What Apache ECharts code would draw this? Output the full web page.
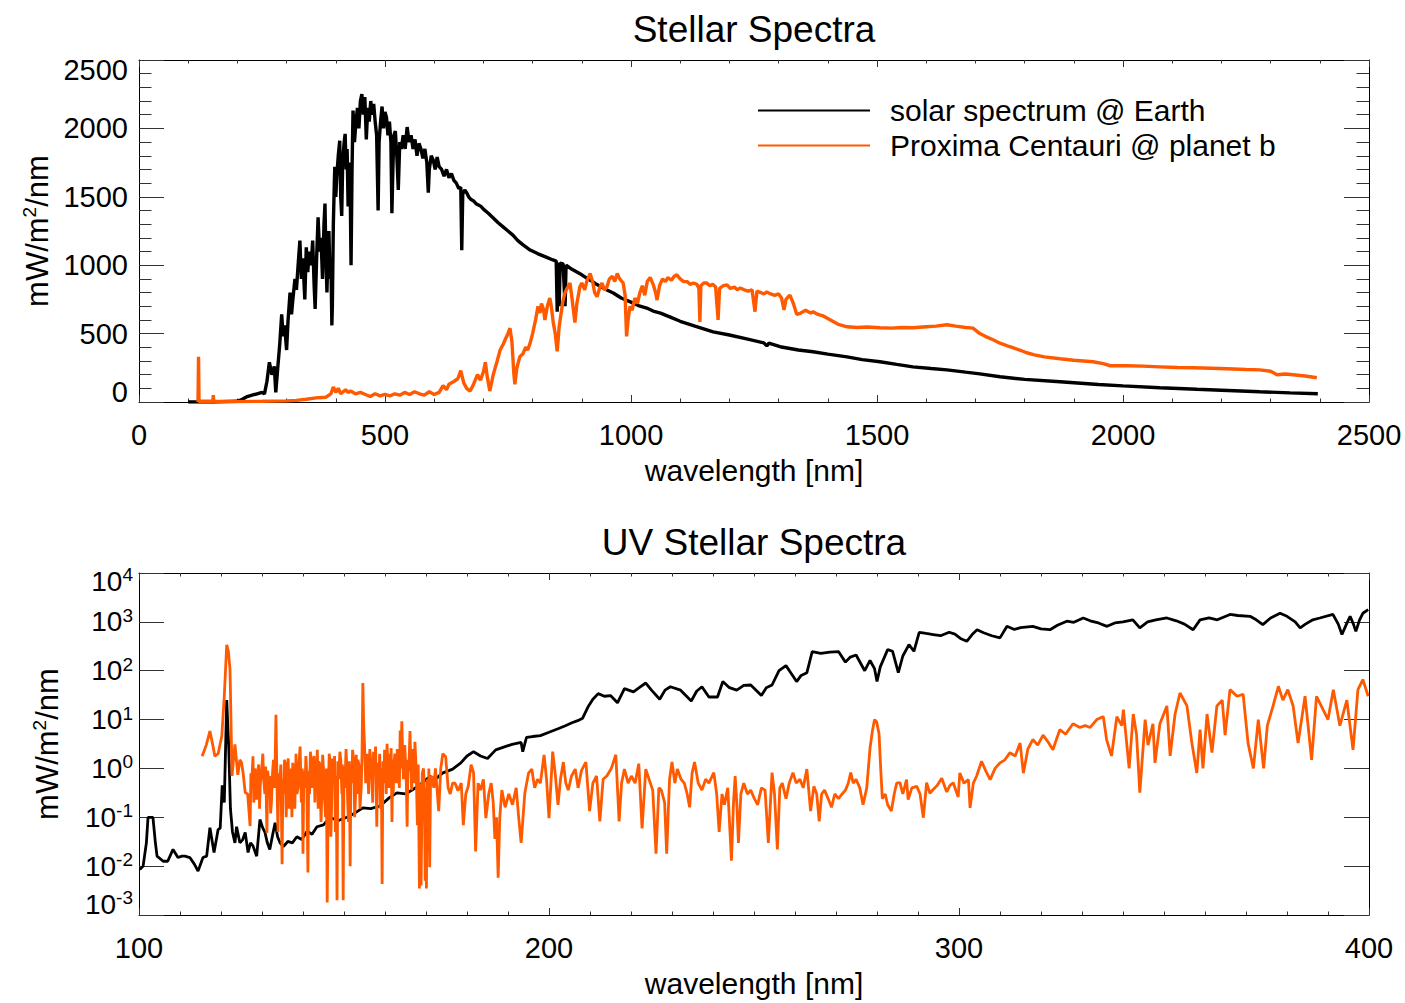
<!DOCTYPE html>
<html>
<head>
<meta charset="utf-8">
<script src="https://cdn.jsdelivr.net/npm/echarts@6/dist/echarts.min.js"></script>
<style>
html,body{margin:0;padding:0;background:#fff;}
#chart{width:1405px;height:1003px;}
</style>
</head>
<body>
<div id="chart"></div>
<script>
// ---------- DATA ----------
const seriesNames = ['solar spectrum @ Earth', 'Proxima Centauri @ planet b'];
const titles = ['Stellar Spectra', 'UV Stellar Spectra'];
const xName = 'wavelength [nm]';

// Top panel: full spectrum, wavelength [nm] vs mW/m2/nm
const topSun = [[100,0],[150,0],[200,5],[210,20],[220,40],[230,50],[240,60],[250,70],[255,60],[260,150],[265,290],[270,200],[275,260],[278,70],[282,250],[286,420],[290,640],[293,480],[296,560],[300,380],[303,600],[307,800],[310,640],[313,760],[317,900],[320,820],[323,980],[327,1180],[330,900],[333,1050],[337,750],[340,1130],[343,950],[346,1100],[350,1000],[353,1180],[356,850],[358,680],[361,1050],[364,1350],[367,1100],[370,1200],[373,900],[376,1300],[378,1450],[380,1050],[382,800],[384,1100],[386,1250],[388,900],[390,1050],[392,560],[393,700],[395,1300],[397,1600],[398,1720],[400,1500],[402,1650],[405,1800],[408,1910],[410,1500],[412,1360],[414,1750],[417,1900],[419,1960],[421,1700],[423,1850],[425,1430],[427,1750],[429,1650],[431,1000],[433,1700],[435,2130],[438,1900],[441,2050],[444,2150],[447,2000],[450,2200],[453,2250],[456,2100],[459,2230],[462,1920],[465,2150],[468,2050],[471,2200],[474,2100],[477,2180],[480,2050],[483,1950],[486,1400],[488,1900],[491,2050],[494,2160],[497,2000],[500,2120],[503,2080],[506,1950],[509,2050],[512,1900],[514,1380],[516,1700],[518,1950],[521,1980],[524,1800],[527,1550],[530,1900],[533,1850],[537,1950],[541,1850],[545,2010],[549,1900],[553,1950],[557,1850],[561,1920],[565,1800],[569,1890],[573,1850],[577,1780],[581,1850],[585,1750],[588,1530],[590,1700],[594,1800],[598,1770],[602,1700],[606,1790],[610,1720],[615,1700],[620,1650],[625,1700],[630,1640],[635,1670],[640,1620],[645,1600],[650,1560],[654,1570],[656,1110],[658,1520],[662,1550],[666,1530],[670,1500],[675,1480],[680,1470],[685,1450],[690,1440],[695,1430],[700,1410],[710,1380],[720,1345],[730,1310],[740,1280],[750,1250],[760,1220],[770,1180],[780,1150],[795,1111],[810,1085],[820,1070],[830,1055],[840,1040],[848,1030],[850,660],[852,1020],[854,700],[856,1015],[862,1010],[866,700],[868,1000],[880,970],[890,950],[900,930],[910,905],[920,885],[930,860],[940,840],[950,820],[964,797],[980,760],[1000,730],[1015,705],[1032,687],[1045,665],[1060,650],[1080,620],[1100,590],[1130,555],[1167,513],[1200,490],[1235,462],[1270,432],[1276,410],[1280,430],[1303,404],[1340,380],[1370,367],[1400,350],[1439,330],[1470,310],[1506,294],[1540,275],[1573,257],[1610,245],[1642,235],[1680,218],[1709,206],[1750,185],[1800,165],[1872,148],[1950,128],[2000,118],[2075,104],[2150,93],[2200,86],[2278,75],[2340,67],[2396,60]];

const topProxima = [[120,0],[121,330],[122,0],[125,5],[150,5],[151,50],[152,5],[200,3],[250,5],[300,8],[320,12],[340,20],[360,30],[380,35],[390,60],[395,110],[400,70],[405,100],[410,60],[420,90],[425,70],[430,80],[440,60],[450,70],[460,55],[470,40],[480,60],[490,45],[500,55],[510,45],[520,60],[530,50],[540,70],[550,55],[560,75],[570,60],[580,50],[590,75],[600,55],[610,70],[618,120],[625,90],[630,130],[640,150],[648,170],[654,230],[660,140],[666,100],[673,80],[680,130],[688,200],[694,160],[700,220],[704,290],[708,180],[713,80],[720,200],[728,300],[734,380],[740,420],[746,470],[750,500],[754,540],[758,440],[762,200],[764,130],[768,250],[774,330],[780,350],[786,400],[790,380],[795,430],[800,500],[806,600],[811,700],[815,650],[818,720],[822,680],[825,600],[830,700],[835,760],[838,700],[842,580],[846,500],[850,370],[854,550],[858,650],[862,745],[866,800],[870,830],[876,870],[880,760],[886,580],[890,720],[896,840],[900,870],[906,820],[910,880],[917,940],[922,880],[926,800],[931,770],[936,830],[941,870],[946,820],[951,840],[956,900],[962,920],[967,880],[972,940],[977,900],[984,870],[988,780],[991,480],[994,600],[998,700],[1002,670],[1008,760],[1013,720],[1018,800],[1023,850],[1028,780],[1033,880],[1039,910],[1045,860],[1050,800],[1053,745],[1058,850],[1064,900],[1070,880],[1075,910],[1082,890],[1088,920],[1093,930],[1100,900],[1107,880],[1114,880],[1120,860],[1127,870],[1134,860],[1138,830],[1140,585],[1142,850],[1148,870],[1154,870],[1160,850],[1166,860],[1172,840],[1177,600],[1180,830],[1188,850],[1195,856],[1202,830],[1210,840],[1216,820],[1222,834],[1230,820],[1238,810],[1246,820],[1252,660],[1256,810],[1264,800],[1270,790],[1276,804],[1284,790],[1292,780],[1300,790],[1306,760],[1311,673],[1315,750],[1320,770],[1323,782],[1330,720],[1337,640],[1345,650],[1355,670],[1365,650],[1370,660],[1380,640],[1390,630],[1398,614],[1410,590],[1420,570],[1439,550],[1460,545],[1480,548],[1506,543],[1530,540],[1550,545],[1573,543],[1600,550],[1620,555],[1642,565],[1660,555],[1680,545],[1695,540],[1709,500],[1720,480],[1736,455],[1750,430],[1770,404],[1790,380],[1804,360],[1820,345],[1840,330],[1872,316],[1900,305],[1939,294],[1960,280],[1974,265],[2008,265],[2040,262],[2075,257],[2110,252],[2142,250],[2180,247],[2211,243],[2250,238],[2278,235],[2300,225],[2313,199],[2330,205],[2346,199],[2370,190],[2394,177]];

// Bottom panel: UV, log scale
const uvSun = [[100.2,0.0085],[101,0.01],[101.8,0.03],[102.2,0.1],[103.4,0.1],[104,0.03],[104.4,0.016],[105.9,0.0126],[107,0.0126],[108.3,0.022],[109.5,0.015],[110.5,0.016],[111.2,0.016],[112.4,0.015],[113.5,0.011],[114.4,0.0079],[115.6,0.015],[116.5,0.016],[117.3,0.061],[118.3,0.019],[119.3,0.056],[119.8,0.06],[120.3,0.45],[120.8,0.2],[121.4,25],[121.9,2.5],[122.3,0.15],[122.8,0.05],[123.4,0.03],[123.8,0.064],[124.6,0.03],[125.3,0.035],[125.9,0.049],[126.6,0.019],[127.2,0.03],[127.8,0.026],[128.7,0.016],[129.5,0.09],[130.2,0.06],[130.7,0.05],[131.3,0.03],[131.9,0.022],[132.5,0.04],[133.2,0.077],[133.8,0.04],[134.4,0.03],[135.2,0.025],[136.3,0.032],[137.4,0.03],[138.5,0.04],[139.7,0.035],[141,0.052],[142.2,0.045],[143.4,0.064],[145,0.07],[146.6,0.1],[148.5,0.085],[150.7,0.1],[152.5,0.12],[154.6,0.156],[156.5,0.15],[158.8,0.17],[161,0.25],[162.9,0.316],[165,0.3],[166.8,0.37],[169,0.5],[171,0.69],[172.2,0.59],[174,0.8],[176.5,0.97],[178.5,1.3],[180,1.8],[181.6,2.2],[183.3,1.8],[185,1.6],[187,2.4],[189.3,2.8],[191,3.1],[193.2,3.4],[193.6,2.2],[194.5,4.3],[196,4.5],[197.9,4.7],[200,5.5],[202.2,6.5],[204,7.5],[205.6,8.6],[207,9.5],[208.2,10.7],[209.5,18],[210.7,26],[212,34],[213.5,30],[215,31],[216.7,22],[218.4,43],[220.6,37],[222,45],[223.6,56],[225,40],[227,26],[228.3,40],[229.6,47],[232.1,40],[234.7,24],[236,38],[237.3,47],[239,29],[241.1,29],[242.4,60],[244,45],[245.8,40],[247.5,50],[249.2,51],[251.8,31],[253,45],[254.4,51],[256.1,100],[257.8,127],[259,90],[260.4,60],[261.5,80],[262.9,91],[264.2,247],[266.3,227],[268.5,240],[270.6,247],[272.3,150],[273.5,190],[274.9,210],[277,100],[278.3,162],[279.4,110],[280,60],[280.8,120],[282.6,270],[283.8,250],[285.2,91],[286.3,200],[287.8,343],[289,250],[290.3,612],[292,580],[293.7,550],[295.5,520],[297.6,612],[299,560],[300.5,450],[301.9,400],[303.2,550],[304.4,690],[306,600],[308,520],[310,470],[311.7,810],[313.5,700],[315,760],[318,810],[320,720],[322.2,690],[324,850],[326.3,1030],[328,980],[330.3,1200],[332,1050],[334,950],[336.1,810],[338,950],[340,1000],[342.4,1100],[344.1,750],[346,1000],[348,1100],[350.7,1200],[353,1050],[355,900],[357.1,690],[358.8,1100],[361,1200],[363,1100],[366.1,1420],[368,1350],[371,1300],[372.5,1100],[374.1,880],[376,1200],[378.3,1500],[380,1300],[382,1000],[383.2,750],[384.5,900],[386.3,1100],[388,1200],[391.2,1420],[392.5,900],[393.4,550],[394.5,900],[395.4,1300],[396.2,900],[396.8,640],[397.7,1100],[398.5,1500],[399.8,1780]];

const uvProxima = [[115.4,1.78],[116.4,3],[117.3,5.8],[118,3],[118.5,1.78],[119.3,2.0],[120.2,4.6],[120.8,30],[121.4,340],[121.8,250],[122.2,105],[122.5,5],[122.7,0.7],[123.4,3.1],[124.1,0.74],[124.6,1.5],[125,1.32],[125.4,0.8],[125.9,0.32],[126.5,0.3],[127.1,0.066],[127.3,0.8],[127.5,0.5],[127.8,1.78],[128,0.2],[128.3,1.0],[128.5,0.4],[128.7,0.23],[129,0.9],[129.2,1.2],[129.4,0.15],[129.6,0.5],[129.9,0.9],[130.2,2.0],[130.4,0.6],[130.7,0.3],[130.9,1.1],[131.2,0.048],[131.4,0.9],[131.6,0.5],[131.9,0.7],[132.1,0.12],[132.3,0.2],[132.6,0.9],[132.8,1.5],[133.1,0.4],[133.4,12.6],[133.7,0.3],[133.9,0.05],[134.1,0.8],[134.3,0.5],[134.6,1.2],[134.9,0.011],[135.1,0.6],[135.3,0.3],[135.5,1.5],[135.7,1.2],[135.9,0.1],[136.1,0.7],[136.4,1.6],[136.6,0.15],[136.8,0.5],[137,1.0],[137.3,0.1],[137.5,1.3],[137.8,0.6],[138,0.15],[138.3,2.0],[138.5,0.3],[138.8,0.4],[139,1.2],[139.3,2.8],[139.6,0.2],[139.8,1.0],[140,0.018],[140.2,0.9],[140.5,0.4],[140.7,1.8],[140.9,0.8],[141.2,0.0074],[141.4,0.9],[141.6,0.3],[141.8,2.2],[142,1.5],[142.2,0.4],[142.4,1.0],[142.7,1.8],[142.9,0.2],[143.1,1.3],[143.3,0.8],[143.5,2.4],[143.7,0.15],[143.9,1.4],[144.1,1.2],[144.4,0.08],[144.6,0.3],[144.8,1.9],[145,0.9],[145.2,0.3],[145.5,0.1],[145.7,1.0],[145.9,0.0018],[146.2,0.5],[146.4,2.0],[146.6,1.3],[146.8,0.04],[147,0.2],[147.2,1.6],[147.5,0.8],[147.7,1.8],[147.9,0.05],[148.1,0.7],[148.3,0.002],[148.5,1.4],[148.7,0.6],[149,2.2],[149.2,1.5],[149.5,0.3],[149.6,1.2],[149.8,0.002],[150,1.1],[150.2,0.4],[150.5,2.5],[150.7,1.0],[150.9,0.2],[151.1,0.08],[151.3,1.4],[151.5,0.01],[151.7,1.0],[151.9,0.5],[152.1,2.4],[152.4,1.4],[152.6,0.1],[152.8,0.25],[153,1.9],[153.2,0.3],[153.4,1.5],[153.7,1.1],[153.9,0.15],[154.2,0.4],[154.4,2.0],[154.6,56],[154.8,8],[155,3],[155.3,0.5],[155.6,2.0],[155.8,0.9],[156,0.3],[156.3,2.5],[156.5,1.5],[156.8,0.6],[157,0.2],[157.2,2.2],[157.5,0.9],[157.7,2.8],[158,0.064],[158.2,1.3],[158.5,0.6],[158.7,2.0],[158.9,0.15],[159.1,1.0],[159.3,0.0043],[159.5,1.4],[159.7,0.5],[159.9,2.4],[160.1,1.5],[160.3,0.3],[160.5,3.2],[160.7,1.2],[160.9,0.4],[161.1,2.0],[161.3,1.0],[161.5,2.6],[161.7,0.08],[161.9,1.5],[162,0.3],[162.2,1.2],[162.4,2.0],[162.6,0.9],[162.8,0.5],[163,2.5],[163.3,1.6],[163.5,0.4],[163.7,6.0],[163.9,1.0],[164.1,9.2],[164.3,2.0],[164.5,0.6],[164.8,3.0],[165,1.4],[165.2,0.5],[165.4,0.064],[165.6,1.5],[165.8,0.9],[166.1,5.8],[166.3,1.0],[166.5,0.36],[166.7,2.5],[166.9,2.0],[167.1,0.5],[167.3,3.5],[167.6,1.0],[167.9,0.069],[168.1,1.2],[168.4,0.0035],[168.6,0.5],[168.8,0.004],[169.1,0.8],[169.4,1.0],[169.6,0.3],[169.8,0.005],[170,0.4],[170.1,0.0035],[170.3,0.6],[170.5,0.02],[170.7,1.0],[170.9,0.0095],[171.1,0.5],[171.4,0.7],[171.9,0.4],[172.3,1.0],[173.1,0.134],[173.6,1.0],[174.1,2.0],[174.8,1.74],[175.4,0.4],[175.9,0.3],[176.5,0.5],[177.1,0.5],[177.8,0.35],[178.6,0.5],[179.1,0.069],[179.7,0.3],[180.3,0.43],[181,1.2],[181.6,0.82],[182.1,0.02],[182.7,0.5],[183.3,0.36],[184,0.6],[184.6,0.096],[185.3,0.3],[185.9,0.5],[186.4,0.2],[186.8,0.036],[187.2,0.1],[187.6,0.0058],[188,0.1],[188.5,0.36],[189.3,0.16],[190.2,0.3],[191.1,0.18],[192,0.4],[192.6,0.1],[193.2,0.03],[194.1,0.31],[195,0.8],[195.8,0.97],[196.5,0.4],[197.2,0.6],[197.9,0.5],[198.8,1.9],[199.4,0.6],[200,0.096],[200.9,2.2],[201.5,0.8],[202.2,0.18],[202.8,0.6],[203.5,1.35],[204.1,0.5],[204.7,0.36],[205.5,0.7],[206.4,0.97],[207.1,0.4],[207.9,0.9],[209,1.35],[209.9,0.134],[210.7,0.5],[211.6,0.7],[212.4,0.082],[213.2,0.6],[214.1,0.7],[215.2,1.0],[216.3,1.9],[217.1,0.082],[217.7,0.5],[218.4,0.97],[219.3,0.5],[220.1,0.7],[221,0.5],[221.9,1.25],[222.7,0.059],[223.6,0.97],[224.4,0.6],[225.3,0.36],[226.1,0.018],[226.8,0.4],[227.4,0.36],[228.2,0.2],[228.7,0.018],[229.4,0.6],[230,1.35],[230.7,0.5],[231.3,0.97],[232.2,0.6],[233,0.5],[233.7,0.3],[234.3,0.16],[234.9,0.8],[235.5,1.35],[236.4,0.5],[237.3,0.36],[238.2,0.6],[239,0.5],[240.2,0.82],[240.9,0.3],[241.5,0.05],[242.2,0.3],[242.8,0.18],[243.6,0.4],[244.5,0.013],[245,0.2],[245.4,0.7],[245.8,0.2],[246.2,0.03],[246.8,0.3],[247.5,0.5],[248.4,0.3],[249.2,0.36],[250,0.25],[250.9,0.18],[251.8,0.4],[252.7,0.36],[253.5,0.03],[254.4,0.82],[255,0.3],[255.7,0.022],[256.3,0.4],[256.9,0.5],[257.8,0.24],[258.6,0.5],[259.5,0.82],[260.3,0.5],[261.2,0.6],[262,0.4],[262.9,0.97],[263.8,0.134],[264.6,0.43],[265.3,0.3],[265.9,0.082],[266.5,0.3],[267.2,0.36],[268,0.25],[268.9,0.16],[269.7,0.3],[270.6,0.24],[271.5,0.3],[272.3,0.36],[273,0.5],[273.6,0.82],[274.2,0.5],[274.9,0.6],[275.8,0.4],[276.6,0.18],[277.5,0.4],[278.3,2.6],[278.9,6],[279.4,10],[279.9,9],[280.5,5.1],[280.9,1.0],[281.3,0.24],[282,0.3],[282.6,0.18],[283.5,0.134],[284.2,0.3],[284.8,0.5],[285.6,0.51],[286.3,0.3],[287.2,0.59],[287.6,0.23],[288.5,0.4],[289.7,0.43],[290.5,0.3],[291.3,0.098],[292.1,0.51],[292.9,0.31],[293.7,0.37],[294.7,0.45],[295.8,0.63],[297,0.33],[297.8,0.45],[298.6,0.51],[299.8,0.26],[300.2,0.81],[301.2,0.5],[302.3,0.59],[302.7,0.156],[303.5,0.5],[304.3,0.7],[305.5,1.4],[306.5,0.9],[307.6,0.59],[308.8,1.0],[310,1.3],[311.2,1.5],[312.4,2.1],[313.7,1.8],[314.9,3.3],[315.7,0.8],[316.8,2.5],[318,3.9],[319.2,3.0],[320.5,4.8],[321.7,3.5],[322.9,2.4],[323.8,4.0],[324.6,6.2],[326,5.0],[327.8,8.2],[329.5,6.9],[330.8,7.5],[332,6.9],[333.6,10],[335.2,11.5],[336,3.9],[337.2,1.8],[338.5,11.5],[339.7,7.5],[340.1,16],[341.5,1.0],[342.5,13],[343.3,5],[344.1,0.32],[345.4,10],[346.1,3.0],[347.3,8.2],[347.8,1.3],[349,8.2],[350.7,19],[351.5,1.8],[352.7,13],[353.9,35],[355.6,19],[356.8,3.3],[358,0.81],[358.8,6.2],[359.5,1.0],[360.5,13],[361.7,2.1],[362.9,19],[364.2,25],[364.9,4.8],[366.1,41],[367.8,30],[369.3,33],[370.5,3.3],[371.8,1.0],[373,10],[374.3,1.0],[375.2,7.5],[376.6,19],[377.9,48],[379,25],[380.2,41],[381.5,19],[382.7,3.3],[384.4,30],[386,1.5],[387.2,30],[388.8,16],[390,10],[391.3,41],[392.9,7.5],[394.6,25],[396.1,2.4],[397.3,41],[398.5,66],[399.8,30]];

// Axis ranges / ticks
const topX = {min: 0, max: 2500, interval: 500};
const topY = {min: 0, max: 2500, interval: 500};
const uvX = {min: 100, max: 400, interval: 100};
const uvY = {min: 0.001, max: 10000};

// ---------- CHART ----------
const FONT = "'Liberation Sans', Arial, Helvetica, sans-serif";
const ORANGE = '#ff5a00';
const TICKC = '#333';
const chart = echarts.init(document.getElementById('chart'), null, {renderer: 'svg'});

const G0 = {left: 139, top: 60, width: 1230, height: 342, outerBoundsMode: 'none', containLabel: false};
const G1 = {left: 139, top: 573, width: 1230, height: 342, outerBoundsMode: 'none', containLabel: false};
const plain = function (v) { return String(v); };

// y labels at the ends of the axis are nudged inward (as in the reference)
const topYFmt = function (v) {
  if (v === topY.max) return '{g| }\n{n|' + v + '}';
  if (v === topY.min) return '{n|' + v + '}\n{g| }';
  return '{n|' + v + '}';
};
const logFmt = function (v) {
  const e = Math.round(Math.log10(v));
  const s = '{b|10}{s|' + e + '}';
  if (e === 4) return '{g1| }\n' + s;
  if (e === -3) return s + '\n{g2| }';
  return s;
};

function xAx(grid, r, pos, labels, minorSplit) {
  const a = {
    type: 'value', gridIndex: grid, position: pos, min: r.min, max: r.max, interval: r.interval,
    axisLine: {show: true, onZero: false, lineStyle: {color: '#000', width: 1}},
    axisTick: {show: true, inside: true, length: 7, lineStyle: {color: TICKC, width: 1}},
    minorTick: {show: true, splitNumber: minorSplit, length: 3.5, lineStyle: {color: TICKC, width: 1}},
    splitLine: {show: false}, minorSplitLine: {show: false},
    axisLabel: {show: labels, margin: 18, color: '#000', fontSize: 29, fontFamily: FONT, formatter: plain}
  };
  if (labels) {
    a.name = xName; a.nameLocation = 'middle'; a.nameGap = 53;
    a.nameTextStyle = {color: '#000', fontSize: 30, fontFamily: FONT};
  }
  return a;
}
const yName = '{a|mW/m}{s|2}{a|/nm}';
const yNameStyle = {color: '#000', fontFamily: FONT, rich: {
  a: {fontSize: 31, fontFamily: FONT, color: '#000', lineHeight: 34},
  s: {fontSize: 19, fontFamily: FONT, color: '#000', verticalAlign: 'top', lineHeight: 22}
}};

const option = {
  animation: false,
  backgroundColor: '#fff',
  grid: [G0, G1],
  legend: {
    orient: 'vertical', left: 758, top: 93, itemGap: 0, padding: 0,
    icon: 'rect', itemWidth: 112, itemHeight: 2,
    data: seriesNames,
    textStyle: {fontSize: 30, fontFamily: FONT, color: '#000', lineHeight: 35, padding: [0, 0, 0, 15]}
  },
  graphic: [
    {type: 'text', x: 754, y: 29, style: {text: titles[0], fontSize: 37, fontFamily: FONT, fill: '#000', align: 'center', verticalAlign: 'middle'}},
    {type: 'text', x: 754, y: 542, style: {text: titles[1], fontSize: 37, fontFamily: FONT, fill: '#000', align: 'center', verticalAlign: 'middle'}}
  ],
  xAxis: [
    xAx(0, topX, 'bottom', true, 5),
    xAx(0, topX, 'top', false, 5),
    xAx(1, uvX, 'bottom', true, 10),
    xAx(1, uvX, 'top', false, 10)
  ],
  yAxis: [
    {type: 'value', gridIndex: 0, position: 'left', min: topY.min, max: topY.max, interval: topY.interval,
     axisLine: {show: true, onZero: false, lineStyle: {color: '#000', width: 1}},
     axisTick: {show: true, inside: true, length: 25, lineStyle: {color: TICKC, width: 1}},
     minorTick: {show: true, splitNumber: 5, length: 12.5, lineStyle: {color: TICKC, width: 1}},
     splitLine: {show: false},
     axisLabel: {margin: 11, color: '#000', fontFamily: FONT, formatter: topYFmt,
       rich: {
         n: {fontSize: 29, fontFamily: FONT, color: '#000', lineHeight: 30},
         g: {fontSize: 2, lineHeight: 20}
       }},
     name: yName, nameLocation: 'middle', nameGap: 80, nameRotate: 90, nameTextStyle: yNameStyle},
    {type: 'value', gridIndex: 0, position: 'right', min: topY.min, max: topY.max, interval: topY.interval,
     axisLine: {show: true, onZero: false, lineStyle: {color: '#000', width: 1}},
     axisTick: {show: true, inside: true, length: 25, lineStyle: {color: TICKC, width: 1}},
     minorTick: {show: true, splitNumber: 5, length: 12.5, lineStyle: {color: TICKC, width: 1}},
     splitLine: {show: false}, axisLabel: {show: false}},
    {type: 'log', logBase: 10, gridIndex: 1, position: 'left', min: uvY.min, max: uvY.max, splitNumber: 7,
     axisLine: {show: true, onZero: false, lineStyle: {color: '#000', width: 1}},
     axisTick: {show: true, inside: true, length: 25, lineStyle: {color: TICKC, width: 1}},
     minorTick: {show: false}, splitLine: {show: false},
     axisLabel: {margin: 6, color: '#000', fontFamily: FONT,
       formatter: logFmt,
       rich: {
         b: {fontSize: 28, fontFamily: FONT, color: '#000', lineHeight: 32},
         s: {fontSize: 19, fontFamily: FONT, color: '#000', verticalAlign: 'top', lineHeight: 20},
         g1: {fontSize: 2, lineHeight: 16},
         g2: {fontSize: 2, lineHeight: 22}
       }},
     name: yName, nameLocation: 'middle', nameGap: 75, nameRotate: 90, nameTextStyle: yNameStyle},
    {type: 'log', logBase: 10, gridIndex: 1, position: 'right', min: uvY.min, max: uvY.max, splitNumber: 7,
     axisLine: {show: true, onZero: false, lineStyle: {color: '#000', width: 1}},
     axisTick: {show: true, inside: true, length: 25, lineStyle: {color: TICKC, width: 1}},
     minorTick: {show: false}, splitLine: {show: false}, axisLabel: {show: false}}
  ],
  series: [
    {name: seriesNames[0], type: 'line', xAxisIndex: 0, yAxisIndex: 0, data: topSun, showSymbol: false,
     lineStyle: {color: '#000', width: 3.4}, itemStyle: {color: '#000'}, clip: true},
    {name: seriesNames[1], type: 'line', xAxisIndex: 0, yAxisIndex: 0, data: topProxima, showSymbol: false,
     lineStyle: {color: ORANGE, width: 3.4}, itemStyle: {color: ORANGE}, clip: true},
    {name: seriesNames[0], type: 'line', xAxisIndex: 2, yAxisIndex: 2, data: uvSun, showSymbol: false,
     lineStyle: {color: '#000', width: 2.8}, itemStyle: {color: '#000'}, clip: true},
    {name: seriesNames[1], type: 'line', xAxisIndex: 2, yAxisIndex: 2, data: uvProxima, showSymbol: false,
     lineStyle: {color: ORANGE, width: 2.8}, itemStyle: {color: ORANGE}, clip: true}
  ]
};
chart.setOption(option);
</script>
</body>
</html>
